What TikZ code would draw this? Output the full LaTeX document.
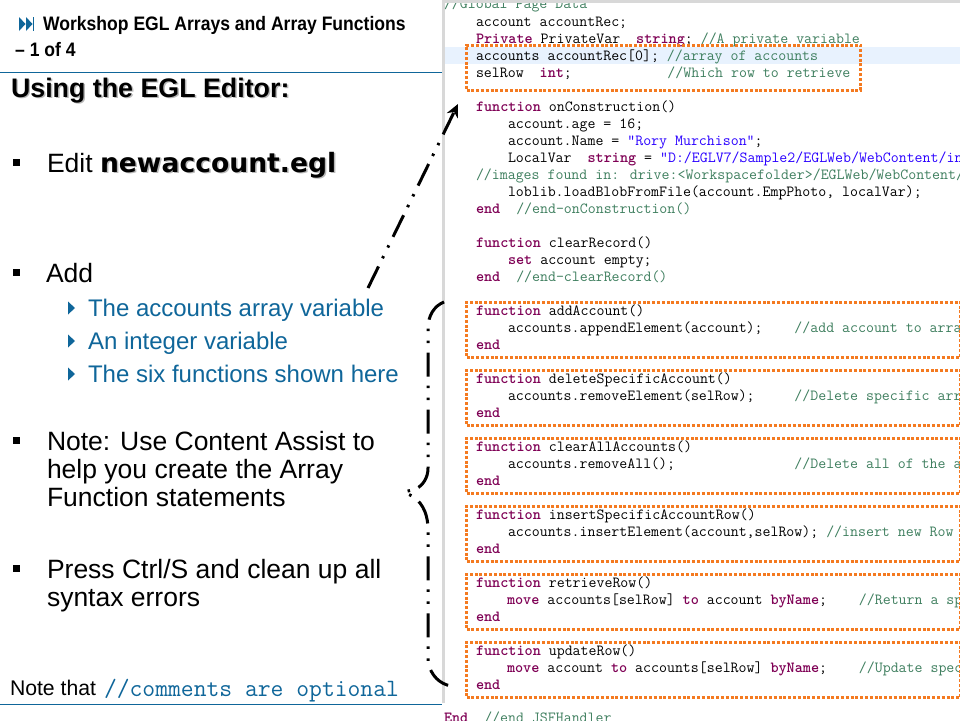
\documentclass[tikz,border=0pt]{standalone}
\usepackage{fontspec}
\setmainfont{Liberation Sans}
\newfontfamily\editfont{DejaVu Sans}
\usetikzlibrary{arrows.meta}
\definecolor{teal1}{HTML}{0F669A}
\definecolor{kwc}{HTML}{7F0055}
\definecolor{cmc}{HTML}{3F7F5F}
\definecolor{stc}{HTML}{2A00FF}
\definecolor{orangebox}{HTML}{F47A20}
\definecolor{rowhl}{HTML}{E8F2FE}
\definecolor{framegrey}{HTML}{D8D8D8}
\newcommand\kw[1]{\textcolor{kwc}{\bfseries #1}}
\newcommand\cm[1]{\textcolor{cmc}{#1}}
\newcommand\stg[1]{\textcolor{stc}{#1}}
\newcommand\gap[1]{\hspace*{#1\fontcharwd\font`x}}
\tikzset{
  codeln/.style={anchor=base west,inner sep=0pt,outer sep=0pt,text=black,font=\fontsize{15.45}{17}\selectfont\ttfamily},
  txt/.style={anchor=base west,inner sep=0pt,outer sep=0pt,font=\fontsize{26.5}{28}\selectfont,text=black},
  subtxt/.style={txt,font=\fontsize{24}{26}\selectfont,text=teal1},
  titletxt/.style={anchor=base west,inner sep=0pt,font=\fontsize{19.5}{21}\selectfont\bfseries,text=black,xscale=.9},
  callbox/.style={draw=orangebox,line width=3pt,dash pattern=on 3pt off 1.8pt,anchor=north west,inner sep=0pt,minimum height=55pt,minimum width=494pt},
  callout/.style={line width=3pt,black,dash pattern=on 24pt off 9pt on 2.5pt off 9.5pt on 2.5pt off 9.5pt},
  subbul/.style={fill=teal1,draw=none},
  rulel/.style={teal1,line width=1pt},
  shade1/.style={text=black!28}
}
\begin{document}
\begin{tikzpicture}[x=1pt,y=-1pt]
\useasboundingbox (0,0) rectangle (960,720);
\clip (0,0) rectangle (960,720);
\fill[white] (0,0) rectangle (960,720);
% code pane
\fill[framegrey] (442,0) rectangle (960,3);
\fill[framegrey] (442,0) rectangle (444.5,703);
\fill[rowhl] (444.5,47) rectangle (960,64);
\begin{scope}
\clip (444.5,3) rectangle (960,720);
\node[codeln] (l0) at (444,9) {\cm{//Global Page Data}};
\end{scope}
\node[codeln] (l1) at (476,26) {account accountRec;};
\node[codeln] (l2) at (476,43) {\kw{Private} PrivateVar\gap{2}\kw{string}; \cm{//A private variable}};
\node[codeln] (l3) at (476,60) {accounts accountRec[0]; \cm{//array of accounts}};
\node[codeln] (l4) at (476,77) {selRow\gap{2}\kw{int};\gap{12}\cm{//Which row to retrieve}};
\node[codeln] (l5) at (476,111) {\kw{function} onConstruction()};
\node[codeln] (l6) at (508,128) {account.age = 16;};
\node[codeln] (l7) at (508,145) {account.Name = \stg{"Rory Murchison"};};
\node[codeln] (l8) at (508,162) {LocalVar\gap{2}\kw{string} = \stg{"D:/EGLV7/Sample2/EGLWeb/WebContent/in}};
\node[codeln] (l9) at (476,179) {\cm{//images found in: drive:<Workspacefolder>/EGLWeb/WebContent/}};
\node[codeln] (l10) at (508,196) {loblib.loadBlobFromFile(account.EmpPhoto, localVar);};
\node[codeln] (l11) at (476,213) {\kw{end}\gap{2}\cm{//end-onConstruction()}};
\node[codeln] (l12) at (476,247) {\kw{function} clearRecord()};
\node[codeln] (l13) at (508,264) {\kw{set} account empty;};
\node[codeln] (l14) at (476,281) {\kw{end}\gap{2}\cm{//end-clearRecord()}};
% functions
\node[codeln] (a1) at (476,315) {\kw{function} addAccount()};
\node[codeln] (a2) at (508,332) {accounts.appendElement(account);\gap{4}\cm{//add account to arra}};
\node[codeln] (a3) at (476,349) {\kw{end}};
\node[codeln] (b1) at (476,383) {\kw{function} deleteSpecificAccount()};
\node[codeln] (b2) at (508,400) {accounts.removeElement(selRow);\gap{5}\cm{//Delete specific arr}};
\node[codeln] (b3) at (476,417) {\kw{end}};
\node[codeln] (c1) at (476,451) {\kw{function} clearAllAccounts()};
\node[codeln] (c2) at (508,468) {accounts.removeAll();\gap{15}\cm{//Delete all of the a}};
\node[codeln] (c3) at (476,485) {\kw{end}};
\node[codeln] (d1) at (476,519) {\kw{function} insertSpecificAccountRow()};
\node[codeln] (d2) at (508,536) {accounts.insertElement(account,selRow); \cm{//insert new Row}};
\node[codeln] (d3) at (476,553) {\kw{end}};
\node[codeln] (e1) at (476,587) {\kw{function} retrieveRow()};
\node[codeln] (e2) at (507,604) {\kw{move} accounts[selRow] \kw{to} account \kw{byName};\gap{4}\cm{//Return a sp}};
\node[codeln] (e3) at (476,621) {\kw{end}};
\node[codeln] (f1) at (476,655) {\kw{function} updateRow()};
\node[codeln] (f2) at (507,672) {\kw{move} account \kw{to} accounts[selRow] \kw{byName};\gap{4}\cm{//Update spec}};
\node[codeln] (f3) at (476,689) {\kw{end}};
\node[codeln] (endl) at (444,722) {\kw{End}\gap{2}\cm{//end JSFHandler}};
% orange boxes
\node[callbox,minimum width=394pt,minimum height=45pt] (vars) at (465,43.5) {};
\node[callbox] (boxa) at (465,300.5) {};
\node[callbox] (boxb) at (465,368.5) {};
\node[callbox] (boxc) at (465,436.5) {};
\node[callbox] (boxd) at (465,504.5) {};
\node[callbox] (boxe) at (465,572.5) {};
\node[callbox] (boxf) at (465,640.5) {};
% left pane
\draw[rulel] (0,72.5) -- (441.5,72.5);
\draw[rulel] (0,704.5) -- (441.5,704.5);
\fill[teal1] (19,17) -- (25.5,24) -- (19,31) -- cycle;
\fill[teal1] (26,17) -- (32.5,24) -- (26,31) -- cycle;
\fill[teal1] (33,17) rectangle (34.2,31);
\node[titletxt] (title1) at (43,30) {Workshop EGL Arrays and Array Functions};
\node[titletxt] (title2) at (15,56) {– 1 of 4};
\node[txt,shade1,font=\fontsize{26.8}{28}\selectfont\bfseries] (headshadow) at (12.5,98.5) {Using the EGL Editor:};
\node[txt,text=black,font=\fontsize{26.8}{28}\selectfont\bfseries] (head) at (11,97) {Using the EGL Editor:};
\fill[black] (12.5,158.5) rectangle (20,166);
\node[txt] (edit) at (47,172) {Edit};
\node[txt,shade1,font=\fontsize{26.6}{28}\selectfont\editfont\bfseries] (fileshadow) at (101.5,173.5) {newaccount.egl};
\node[txt,text=black,font=\fontsize{26.6}{28}\selectfont\editfont\bfseries] (file) at (100,172) {newaccount.egl};
\fill[black] (12.5,268.5) rectangle (20,276);
\node[txt] (add) at (46,282) {Add};
\fill[subbul] (68,301.5) -- (75,308) -- (68,314.5) -- cycle;
\node[subtxt] (s1) at (88,316) {The accounts array variable};
\fill[subbul] (68,334.5) -- (75,341) -- (68,347.5) -- cycle;
\node[subtxt] (s2) at (88,349) {An integer variable};
\fill[subbul] (68,367.5) -- (75,374) -- (68,380.5) -- cycle;
\node[subtxt] (s3) at (88,382) {The six functions shown here};
\fill[black] (12.5,436.5) rectangle (20,444);
\node[txt] (n1) at (47,450) {Note: Use Content Assist to};
\node[txt] (n2) at (47,478) {help you create the Array};
\node[txt] (n3) at (47,506) {Function statements};
\fill[black] (12.5,564.5) rectangle (20,572);
\node[txt] (p1) at (47,578) {Press Ctrl/S and clean up all};
\node[txt] (p2) at (47,606) {syntax errors};
\node[txt,font=\fontsize{21.2}{23}\selectfont] (nt) at (10,695) {Note that};
\node[txt,text=teal1,font=\fontsize{24.9}{26}\selectfont\ttfamily] (cm) at (104,696) {//comments are optional};
% connectors
\coordinate (arrS) at (368,288);
\coordinate (arrE) at (458,104);
\draw[callout,-{Stealth[length=13pt,width=12pt]}] (arrS) -- (arrE);
\coordinate (brT) at (444,302);
\coordinate (brU) at (428,328);
\coordinate (brV) at (428,468);
\coordinate (brM) at (404,492);
\coordinate (brW) at (428,530);
\coordinate (brX) at (428,662);
\coordinate (brB) at (451,686);
\draw[callout] (brT) .. controls (434,306) and (428,316) .. (brU) -- (brV)
  .. controls (428,478) and (423,485) .. (416,489) -- (brM) -- (414,497)
  .. controls (424,505) and (428,516) .. (brW) -- (brX)
  .. controls (431,676) and (440,684) .. (brB);
\end{tikzpicture}
\end{document}
